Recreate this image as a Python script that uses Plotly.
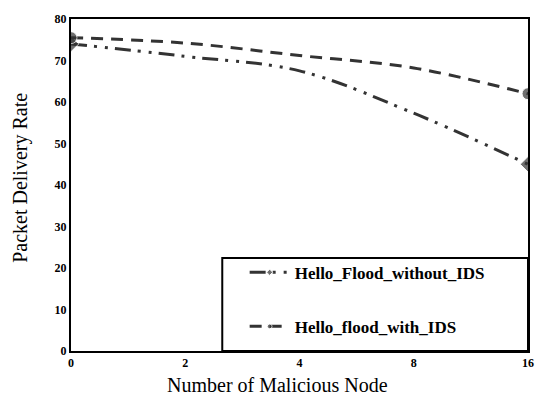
import plotly.graph_objects as go

x_labels = ["0", "2", "4", "8", "16"]
without_ids = [74, 71, 67.5, 57.3, 45]
with_ids = [75.5, 74.2, 71.2, 68.2, 62]

names = ["Hello_Flood_without_IDS", "Hello_flood_with_IDS"]
x_title = "Number of Malicious Node"
y_title = "Packet Delivery Rate"

fig = go.Figure()
end_sizes = [12, 0, 0, 0, 12]
fig.add_trace(go.Scatter(
    x=x_labels, y=without_ids, name=names[0], mode="lines+markers",
    line=dict(color="#333333", width=3, shape="spline", dash="16px,7px,3px,8px,3px,7px"),
    marker=dict(symbol="diamond", size=end_sizes, color="#333333"),
    legendgroup="a",
))
fig.add_trace(go.Scatter(
    x=x_labels, y=with_ids, name=names[1], mode="lines+markers",
    line=dict(color="#333333", width=3, shape="spline", dash="12px,8px"),
    marker=dict(symbol="circle", size=end_sizes, color="#333333"),
    legendgroup="b",
))

fig.add_shape(type="rect", xref="paper", yref="paper", x0=0.331, x1=1.0, y0=0, y1=0.28,
              line=dict(color="black", width=2), fillcolor="white", layer="below")

fig.add_annotation(text=x_title, xref="paper", yref="paper", x=0.451, y=-0.102,
                   xanchor="center", yanchor="middle", showarrow=False,
                   font=dict(size=20, family="Liberation Serif", color="black"))
fig.add_annotation(text=y_title, xref="paper", yref="paper", x=-0.112, y=0.521,
                   xanchor="center", yanchor="middle", showarrow=False, textangle=-90,
                   font=dict(size=20, family="Liberation Serif", color="black"))

fig.update_layout(
    width=542, height=407,
    margin=dict(l=71, r=8, t=19, b=56),
    paper_bgcolor="white", plot_bgcolor="white",
    font=dict(family="Liberation Serif", color="black"),
    showlegend=True,
    legend=dict(x=0.38, y=0.29, xanchor="left", yanchor="top",
                bgcolor="rgba(0,0,0,0)", borderwidth=0,
                font=dict(size=17, family="Liberation Serif", weight="bold"),
                tracegroupgap=29, traceorder="grouped", itemwidth=40),
    xaxis=dict(type="category", range=[0, 4], showgrid=False, zeroline=False,
               showline=True, linecolor="black", linewidth=2, mirror=True,
               ticks="", tickfont=dict(size=12, weight="bold")),
    yaxis=dict(range=[0, 80], dtick=10, showgrid=False, zeroline=False,
               showline=True, linecolor="black", linewidth=2, mirror=True,
               ticks="", tickfont=dict(size=12, weight="bold")),
)

fig.write_html("out.html", config={"displayModeBar": False},
               post_script="document.body.style.margin='0';")
